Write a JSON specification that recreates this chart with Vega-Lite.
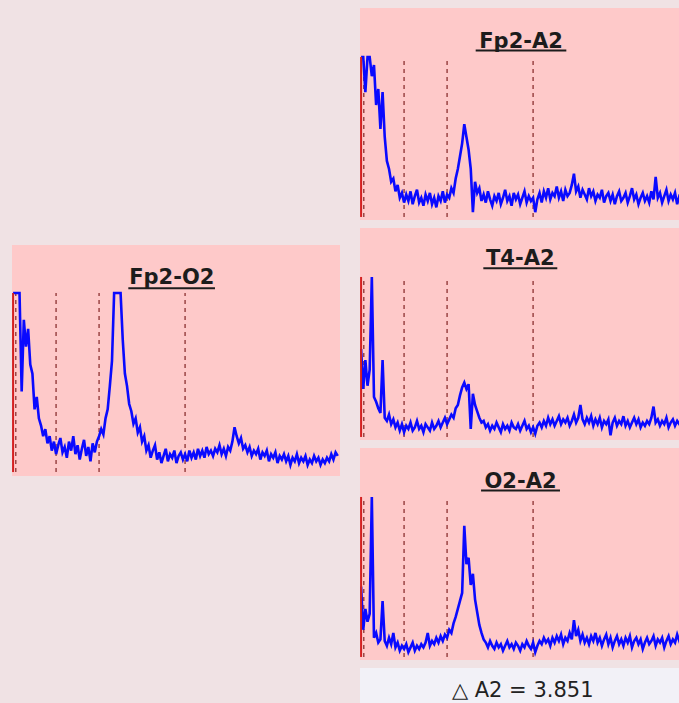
{
"$schema": "https://vega.github.io/schema/vega-lite/v6.json",
"background": "#f0e2e4",
"padding": {"left": 12, "top": 8, "right": 0, "bottom": 0},
"config": {"view": {"stroke": null}, "line": {"strokeWidth": 2.6, "color": "#0a0aff", "strokeJoin": "miter"}},
"datasets": {"spec": [
{"f":0,"a":1.0,"b":0.55,"c":0.44,"d":1.0},
{"f":0.2,"a":1.0,"b":0.3,"c":0.17,"d":1.0},
{"f":0.4,"a":0.78,"b":0.48,"c":0.3,"d":1.0},
{"f":0.6,"a":1.0,"b":0.32,"c":0.22,"d":1.0},
{"f":0.8,"a":1.0,"b":0.42,"c":0.27,"d":0.45},
{"f":1.0,"a":0.88,"b":1.0,"c":1.0,"d":0.85},
{"f":1.2,"a":0.95,"b":0.25,"c":0.12,"d":0.7},
{"f":1.4,"a":0.7,"b":0.22,"c":0.15,"d":0.8},
{"f":1.6,"a":0.8,"b":0.18,"c":0.09,"d":0.6},
{"f":1.8,"a":0.55,"b":0.15,"c":0.11,"d":0.55},
{"f":2.0,"a":0.78,"b":0.48,"c":0.35,"d":0.35},
{"f":2.2,"a":0.5,"b":0.12,"c":0.1,"d":0.42},
{"f":2.4,"a":0.35,"b":0.1,"c":0.07,"d":0.3},
{"f":2.6,"a":0.3,"b":0.14,"c":0.12,"d":0.26},
{"f":2.8,"a":0.22,"b":0.08,"c":0.08,"d":0.2},
{"f":3.0,"a":0.24,"b":0.11,"c":0.15,"d":0.24},
{"f":3.2,"a":0.16,"b":0.06,"c":0.06,"d":0.16},
{"f":3.4,"a":0.2,"b":0.09,"c":0.09,"d":0.2},
{"f":3.6,"a":0.12,"b":0.04,"c":0.04,"d":0.12},
{"f":3.8,"a":0.15,"b":0.08,"c":0.07,"d":0.17},
{"f":4.0,"a":0.09,"b":0.03,"c":0.05,"d":0.1},
{"f":4.2,"a":0.14,"b":0.07,"c":0.08,"d":0.15},
{"f":4.4,"a":0.1,"b":0.05,"c":0.03,"d":0.19},
{"f":4.6,"a":0.16,"b":0.09,"c":0.06,"d":0.11},
{"f":4.8,"a":0.08,"b":0.04,"c":0.09,"d":0.14},
{"f":5.0,"a":0.13,"b":0.06,"c":0.04,"d":0.08},
{"f":5.2,"a":0.17,"b":0.1,"c":0.07,"d":0.17},
{"f":5.4,"a":0.09,"b":0.05,"c":0.05,"d":0.12},
{"f":5.6,"a":0.12,"b":0.07,"c":0.08,"d":0.2},
{"f":5.8,"a":0.07,"b":0.03,"c":0.06,"d":0.1},
{"f":6.0,"a":0.14,"b":0.08,"c":0.09,"d":0.15},
{"f":6.2,"a":0.1,"b":0.06,"c":0.15,"d":0.07},
{"f":6.4,"a":0.15,"b":0.04,"c":0.07,"d":0.13},
{"f":6.6,"a":0.08,"b":0.09,"c":0.1,"d":0.18},
{"f":6.8,"a":0.12,"b":0.05,"c":0.08,"d":0.09},
{"f":7.0,"a":0.06,"b":0.07,"c":0.12,"d":0.14},
{"f":7.2,"a":0.13,"b":0.1,"c":0.09,"d":0.06},
{"f":7.4,"a":0.1,"b":0.06,"c":0.13,"d":0.16},
{"f":7.6,"a":0.16,"b":0.09,"c":0.1,"d":0.11},
{"f":7.8,"a":0.09,"b":0.12,"c":0.14,"d":0.17},
{"f":8.0,"a":0.14,"b":0.08,"c":0.12,"d":0.2},
{"f":8.2,"a":0.12,"b":0.11,"c":0.17,"d":0.24},
{"f":8.4,"a":0.18,"b":0.14,"c":0.15,"d":0.21},
{"f":8.6,"a":0.15,"b":0.12,"c":0.21,"d":0.3},
{"f":8.8,"a":0.24,"b":0.18,"c":0.25,"d":0.35},
{"f":9.0,"a":0.3,"b":0.2,"c":0.3,"d":0.48},
{"f":9.2,"a":0.38,"b":0.26,"c":0.35,"d":0.62},
{"f":9.4,"a":0.46,"b":0.31,"c":0.4,"d":1.0},
{"f":9.6,"a":0.58,"b":0.34,"c":0.82,"d":1.0},
{"f":9.8,"a":0.5,"b":0.3,"c":0.58,"d":1.0},
{"f":10.0,"a":0.42,"b":0.33,"c":0.62,"d":1.0},
{"f":10.2,"a":0.3,"b":0.05,"c":0.45,"d":0.74},
{"f":10.4,"a":0.03,"b":0.27,"c":0.52,"d":0.55},
{"f":10.6,"a":0.22,"b":0.2,"c":0.36,"d":0.48},
{"f":10.8,"a":0.15,"b":0.16,"c":0.28,"d":0.38},
{"f":11.0,"a":0.18,"b":0.12,"c":0.2,"d":0.34},
{"f":11.2,"a":0.1,"b":0.09,"c":0.15,"d":0.27},
{"f":11.4,"a":0.14,"b":0.1,"c":0.11,"d":0.3},
{"f":11.6,"a":0.09,"b":0.06,"c":0.09,"d":0.22},
{"f":11.8,"a":0.16,"b":0.08,"c":0.06,"d":0.25},
{"f":12.0,"a":0.11,"b":0.04,"c":0.1,"d":0.17},
{"f":12.2,"a":0.07,"b":0.07,"c":0.07,"d":0.2},
{"f":12.4,"a":0.13,"b":0.05,"c":0.05,"d":0.12},
{"f":12.6,"a":0.1,"b":0.09,"c":0.09,"d":0.15},
{"f":12.8,"a":0.15,"b":0.06,"c":0.06,"d":0.08},
{"f":13.0,"a":0.08,"b":0.03,"c":0.08,"d":0.12},
{"f":13.2,"a":0.12,"b":0.08,"c":0.04,"d":0.15},
{"f":13.4,"a":0.17,"b":0.05,"c":0.07,"d":0.07},
{"f":13.6,"a":0.1,"b":0.07,"c":0.1,"d":0.11},
{"f":13.8,"a":0.13,"b":0.04,"c":0.06,"d":0.05},
{"f":14.0,"a":0.07,"b":0.09,"c":0.08,"d":0.09},
{"f":14.2,"a":0.15,"b":0.06,"c":0.05,"d":0.13},
{"f":14.4,"a":0.11,"b":0.05,"c":0.09,"d":0.06},
{"f":14.6,"a":0.14,"b":0.08,"c":0.07,"d":0.1},
{"f":14.8,"a":0.08,"b":0.04,"c":0.04,"d":0.08},
{"f":15.0,"a":0.12,"b":0.07,"c":0.08,"d":0.12},
{"f":15.2,"a":0.16,"b":0.1,"c":0.06,"d":0.05},
{"f":15.4,"a":0.09,"b":0.05,"c":0.1,"d":0.09},
{"f":15.6,"a":0.13,"b":0.07,"c":0.07,"d":0.11},
{"f":15.8,"a":0.1,"b":0.03,"c":0.05,"d":0.07},
{"f":16.0,"a":0.12,"b":0.06,"c":0.09,"d":0.1},
{"f":16.2,"a":0.03,"b":0.02,"c":0.03,"d":0.06},
{"f":16.4,"a":0.11,"b":0.07,"c":0.07,"d":0.12},
{"f":16.6,"a":0.15,"b":0.09,"c":0.1,"d":0.08},
{"f":16.8,"a":0.09,"b":0.06,"c":0.08,"d":0.11},
{"f":17.0,"a":0.16,"b":0.1,"c":0.12,"d":0.07},
{"f":17.2,"a":0.12,"b":0.07,"c":0.09,"d":0.13},
{"f":17.4,"a":0.18,"b":0.12,"c":0.11,"d":0.09},
{"f":17.6,"a":0.11,"b":0.08,"c":0.07,"d":0.12},
{"f":17.8,"a":0.15,"b":0.11,"c":0.12,"d":0.08},
{"f":18.0,"a":0.13,"b":0.07,"c":0.09,"d":0.14},
{"f":18.2,"a":0.19,"b":0.1,"c":0.13,"d":0.1},
{"f":18.4,"a":0.12,"b":0.13,"c":0.1,"d":0.12},
{"f":18.6,"a":0.16,"b":0.08,"c":0.14,"d":0.09},
{"f":18.8,"a":0.1,"b":0.11,"c":0.08,"d":0.13},
{"f":19.0,"a":0.17,"b":0.09,"c":0.12,"d":0.11},
{"f":19.2,"a":0.13,"b":0.12,"c":0.1,"d":0.15},
{"f":19.4,"a":0.15,"b":0.07,"c":0.15,"d":0.1},
{"f":19.6,"a":0.2,"b":0.1,"c":0.11,"d":0.13},
{"f":19.8,"a":0.27,"b":0.14,"c":0.23,"d":0.09},
{"f":20.0,"a":0.16,"b":0.09,"c":0.13,"d":0.14},
{"f":20.2,"a":0.19,"b":0.12,"c":0.17,"d":0.12},
{"f":20.4,"a":0.12,"b":0.2,"c":0.1,"d":0.17},
{"f":20.6,"a":0.17,"b":0.11,"c":0.14,"d":0.25},
{"f":20.8,"a":0.14,"b":0.08,"c":0.09,"d":0.2},
{"f":21.0,"a":0.11,"b":0.12,"c":0.12,"d":0.16},
{"f":21.2,"a":0.18,"b":0.09,"c":0.08,"d":0.19},
{"f":21.4,"a":0.13,"b":0.13,"c":0.13,"d":0.13},
{"f":21.6,"a":0.16,"b":0.07,"c":0.1,"d":0.15},
{"f":21.8,"a":0.1,"b":0.11,"c":0.15,"d":0.11},
{"f":22.0,"a":0.14,"b":0.08,"c":0.09,"d":0.14},
{"f":22.2,"a":0.12,"b":0.12,"c":0.12,"d":0.09},
{"f":22.4,"a":0.17,"b":0.06,"c":0.07,"d":0.12},
{"f":22.6,"a":0.09,"b":0.1,"c":0.11,"d":0.1},
{"f":22.8,"a":0.13,"b":0.08,"c":0.14,"d":0.13},
{"f":23.0,"a":0.15,"b":0.11,"c":0.08,"d":0.07},
{"f":23.2,"a":0.1,"b":0.01,"c":0.12,"d":0.11},
{"f":23.4,"a":0.14,"b":0.09,"c":0.06,"d":0.09},
{"f":23.6,"a":0.08,"b":0.12,"c":0.1,"d":0.12},
{"f":23.8,"a":0.13,"b":0.07,"c":0.13,"d":0.06},
{"f":24.0,"a":0.16,"b":0.1,"c":0.08,"d":0.1},
{"f":24.2,"a":0.1,"b":0.08,"c":0.11,"d":0.08},
{"f":24.4,"a":0.12,"b":0.13,"c":0.07,"d":0.11},
{"f":24.6,"a":0.15,"b":0.07,"c":0.12,"d":0.05},
{"f":24.8,"a":0.09,"b":0.1,"c":0.09,"d":0.09},
{"f":25.0,"a":0.13,"b":0.06,"c":0.13,"d":0.07},
{"f":25.2,"a":0.18,"b":0.09,"c":0.06,"d":0.1},
{"f":25.4,"a":0.11,"b":0.12,"c":0.1,"d":0.06},
{"f":25.6,"a":0.14,"b":0.08,"c":0.12,"d":0.09},
{"f":25.8,"a":0.08,"b":0.11,"c":0.08,"d":0.04},
{"f":26.0,"a":0.12,"b":0.06,"c":0.11,"d":0.08},
{"f":26.2,"a":0.15,"b":0.09,"c":0.05,"d":0.06},
{"f":26.4,"a":0.1,"b":0.07,"c":0.09,"d":0.1},
{"f":26.6,"a":0.13,"b":0.1,"c":0.12,"d":0.05},
{"f":26.8,"a":0.09,"b":0.08,"c":0.08,"d":0.08},
{"f":27.0,"a":0.16,"b":0.12,"c":0.1,"d":0.06},
{"f":27.2,"a":0.11,"b":0.19,"c":0.13,"d":0.09},
{"f":27.4,"a":0.25,"b":0.09,"c":0.07,"d":0.04},
{"f":27.6,"a":0.12,"b":0.11,"c":0.11,"d":0.07},
{"f":27.8,"a":0.15,"b":0.07,"c":0.09,"d":0.05},
{"f":28.0,"a":0.09,"b":0.1,"c":0.12,"d":0.09},
{"f":28.2,"a":0.13,"b":0.08,"c":0.06,"d":0.06},
{"f":28.4,"a":0.17,"b":0.12,"c":0.1,"d":0.08},
{"f":28.6,"a":0.1,"b":0.06,"c":0.13,"d":0.04},
{"f":28.8,"a":0.14,"b":0.09,"c":0.08,"d":0.07},
{"f":29.0,"a":0.11,"b":0.11,"c":0.11,"d":0.05},
{"f":29.2,"a":0.15,"b":0.07,"c":0.09,"d":0.08},
{"f":29.4,"a":0.08,"b":0.1,"c":0.14,"d":0.06},
{"f":29.6,"a":0.13,"b":0.08,"c":0.1,"d":0.1},
{"f":29.8,"a":0.12,"b":0.12,"c":0.16,"d":0.07},
{"f":30.0,"a":0.16,"b":0.09,"c":0.12,"d":0.11},
{"f":30.2,"a":0.1,"b":0.11,"c":0.15,"d":0.09}
]},
"spacing": 20,
"hconcat": [
{"spacing": 8, "vconcat": [
 {"width": 328, "height": 229, "view": {"fill": null, "stroke": null}, "data": {"values": [{}]}, "mark": {"type": "point", "opacity": 0}, "encoding": {}},
 {"width": 328, "height": 231, "view": {"fill": "#fec9c9", "stroke": null},
  "layer": [
   {"data": {"values": [{"f": 0.25}, {"f": 4}, {"f": 8}, {"f": 16}]},
    "mark": {"type": "rule", "color": "#9a4545", "strokeDash": [4, 4], "strokeWidth": 1.5},
    "encoding": {"x": {"field": "f", "type": "quantitative", "scale": {"domain": [-0.1, 30.41], "nice": false, "zero": false}, "axis": null},
                 "y": {"datum": 0, "type": "quantitative", "scale": {"domain": [-0.022, 1.268], "nice": false, "zero": false}, "axis": null},
                 "y2": {"datum": 1}}},
   {"data": {"name": "spec"},
    "mark": {"type": "line", "clip": true},
    "encoding": {"x": {"field": "f", "type": "quantitative", "scale": {"domain": [-0.1, 30.41], "nice": false, "zero": false}, "axis": null},
                 "y": {"field": "d", "type": "quantitative", "scale": {"domain": [-0.022, 1.268], "nice": false, "zero": false}, "axis": null}}},
   {"data": {"values": [{}]},
    "mark": {"type": "rule", "color": "#d42020", "strokeWidth": 2},
    "encoding": {"x": {"datum": 0, "type": "quantitative", "scale": {"domain": [-0.1, 30.41], "nice": false, "zero": false}, "axis": null},
                 "y": {"datum": 0, "type": "quantitative", "scale": {"domain": [-0.022, 1.268], "nice": false, "zero": false}, "axis": null},
                 "y2": {"datum": 1}}},
   {"data": {"values": [{}]},
    "mark": {"type": "text", "font": "DejaVu Sans", "fontSize": 21, "fontWeight": "bold", "color": "#1c1c1c", "align": "center", "baseline": "alphabetic"},
    "encoding": {"x": {"datum": 14.76, "type": "quantitative", "scale": {"domain": [-0.1, 30.41], "nice": false, "zero": false}, "axis": null},
                 "y": {"datum": 1.05, "type": "quantitative", "scale": {"domain": [-0.022, 1.268], "nice": false, "zero": false}, "axis": null},
                 "text": {"value": "Fp2-O2"}}},
   {"data": {"values": [{}]},
    "mark": {"type": "rule", "color": "#1c1c1c", "strokeWidth": 2},
    "encoding": {"x": {"datum": 10.72, "type": "quantitative", "scale": {"domain": [-0.1, 30.41], "nice": false, "zero": false}, "axis": null},
                 "x2": {"datum": 18.78},
                 "y": {"datum": 1.026, "type": "quantitative", "scale": {"domain": [-0.022, 1.268], "nice": false, "zero": false}, "axis": null}}}
  ]}
]},
{"spacing": 8, "vconcat": [
 {"width": 319, "height": 212, "view": {"fill": "#fec9c9", "stroke": null},
  "layer": [
   {"data": {"values": [{"f": 0.25}, {"f": 4}, {"f": 8}, {"f": 16}]},
    "mark": {"type": "rule", "color": "#9a4545", "strokeDash": [4, 4], "strokeWidth": 1.5},
    "encoding": {"x": {"field": "f", "type": "quantitative", "scale": {"domain": [-0.1, 29.57], "nice": false, "zero": false}, "axis": null},
                 "y": {"datum": 0, "type": "quantitative", "scale": {"domain": [-0.019, 1.306], "nice": false, "zero": false}, "axis": null},
                 "y2": {"datum": 1}}},
   {"data": {"name": "spec"},
    "mark": {"type": "line", "clip": true},
    "encoding": {"x": {"field": "f", "type": "quantitative", "scale": {"domain": [-0.1, 29.57], "nice": false, "zero": false}, "axis": null},
                 "y": {"field": "a", "type": "quantitative", "scale": {"domain": [-0.019, 1.306], "nice": false, "zero": false}, "axis": null}}},
   {"data": {"values": [{}]},
    "mark": {"type": "rule", "color": "#d42020", "strokeWidth": 2},
    "encoding": {"x": {"datum": 0, "type": "quantitative", "scale": {"domain": [-0.1, 29.57], "nice": false, "zero": false}, "axis": null},
                 "y": {"datum": 0, "type": "quantitative", "scale": {"domain": [-0.019, 1.306], "nice": false, "zero": false}, "axis": null},
                 "y2": {"datum": 1}}},
   {"data": {"values": [{}]},
    "mark": {"type": "text", "font": "DejaVu Sans", "fontSize": 21, "fontWeight": "bold", "color": "#1c1c1c", "align": "center", "baseline": "alphabetic"},
    "encoding": {"x": {"datum": 14.88, "type": "quantitative", "scale": {"domain": [-0.1, 29.57], "nice": false, "zero": false}, "axis": null},
                 "y": {"datum": 1.056, "type": "quantitative", "scale": {"domain": [-0.019, 1.306], "nice": false, "zero": false}, "axis": null},
                 "text": {"value": "Fp2-A2"}}},
   {"data": {"values": [{}]},
    "mark": {"type": "rule", "color": "#1c1c1c", "strokeWidth": 2},
    "encoding": {"x": {"datum": 10.66, "type": "quantitative", "scale": {"domain": [-0.1, 29.57], "nice": false, "zero": false}, "axis": null},
                 "x2": {"datum": 19.09},
                 "y": {"datum": 1.04, "type": "quantitative", "scale": {"domain": [-0.019, 1.306], "nice": false, "zero": false}, "axis": null}}}
  ]},
 {"width": 319, "height": 212, "view": {"fill": "#fec9c9", "stroke": null},
  "layer": [
   {"data": {"values": [{"f": 0.25}, {"f": 4}, {"f": 8}, {"f": 16}]},
    "mark": {"type": "rule", "color": "#9a4545", "strokeDash": [4, 4], "strokeWidth": 1.5},
    "encoding": {"x": {"field": "f", "type": "quantitative", "scale": {"domain": [-0.1, 29.57], "nice": false, "zero": false}, "axis": null},
                 "y": {"datum": 0, "type": "quantitative", "scale": {"domain": [-0.019, 1.306], "nice": false, "zero": false}, "axis": null},
                 "y2": {"datum": 1}}},
   {"data": {"name": "spec"},
    "mark": {"type": "line", "clip": true},
    "encoding": {"x": {"field": "f", "type": "quantitative", "scale": {"domain": [-0.1, 29.57], "nice": false, "zero": false}, "axis": null},
                 "y": {"field": "b", "type": "quantitative", "scale": {"domain": [-0.019, 1.306], "nice": false, "zero": false}, "axis": null}}},
   {"data": {"values": [{}]},
    "mark": {"type": "rule", "color": "#d42020", "strokeWidth": 2},
    "encoding": {"x": {"datum": 0, "type": "quantitative", "scale": {"domain": [-0.1, 29.57], "nice": false, "zero": false}, "axis": null},
                 "y": {"datum": 0, "type": "quantitative", "scale": {"domain": [-0.019, 1.306], "nice": false, "zero": false}, "axis": null},
                 "y2": {"datum": 1}}},
   {"data": {"values": [{}]},
    "mark": {"type": "text", "font": "DejaVu Sans", "fontSize": 21, "fontWeight": "bold", "color": "#1c1c1c", "align": "center", "baseline": "alphabetic"},
    "encoding": {"x": {"datum": 14.81, "type": "quantitative", "scale": {"domain": [-0.1, 29.57], "nice": false, "zero": false}, "axis": null},
                 "y": {"datum": 1.075, "type": "quantitative", "scale": {"domain": [-0.019, 1.306], "nice": false, "zero": false}, "axis": null},
                 "text": {"value": "T4-A2"}}},
   {"data": {"values": [{}]},
    "mark": {"type": "rule", "color": "#1c1c1c", "strokeWidth": 2},
    "encoding": {"x": {"datum": 11.37, "type": "quantitative", "scale": {"domain": [-0.1, 29.57], "nice": false, "zero": false}, "axis": null},
                 "x2": {"datum": 18.25},
                 "y": {"datum": 1.054, "type": "quantitative", "scale": {"domain": [-0.019, 1.306], "nice": false, "zero": false}, "axis": null}}}
  ]},
 {"width": 319, "height": 212, "view": {"fill": "#fec9c9", "stroke": null},
  "layer": [
   {"data": {"values": [{"f": 0.25}, {"f": 4}, {"f": 8}, {"f": 16}]},
    "mark": {"type": "rule", "color": "#9a4545", "strokeDash": [4, 4], "strokeWidth": 1.5},
    "encoding": {"x": {"field": "f", "type": "quantitative", "scale": {"domain": [-0.1, 29.57], "nice": false, "zero": false}, "axis": null},
                 "y": {"datum": 0, "type": "quantitative", "scale": {"domain": [-0.019, 1.306], "nice": false, "zero": false}, "axis": null},
                 "y2": {"datum": 1}}},
   {"data": {"name": "spec"},
    "mark": {"type": "line", "clip": true},
    "encoding": {"x": {"field": "f", "type": "quantitative", "scale": {"domain": [-0.1, 29.57], "nice": false, "zero": false}, "axis": null},
                 "y": {"field": "c", "type": "quantitative", "scale": {"domain": [-0.019, 1.306], "nice": false, "zero": false}, "axis": null}}},
   {"data": {"values": [{}]},
    "mark": {"type": "rule", "color": "#d42020", "strokeWidth": 2},
    "encoding": {"x": {"datum": 0, "type": "quantitative", "scale": {"domain": [-0.1, 29.57], "nice": false, "zero": false}, "axis": null},
                 "y": {"datum": 0, "type": "quantitative", "scale": {"domain": [-0.019, 1.306], "nice": false, "zero": false}, "axis": null},
                 "y2": {"datum": 1}}},
   {"data": {"values": [{}]},
    "mark": {"type": "text", "font": "DejaVu Sans", "fontSize": 21, "fontWeight": "bold", "color": "#1c1c1c", "align": "center", "baseline": "alphabetic"},
    "encoding": {"x": {"datum": 14.83, "type": "quantitative", "scale": {"domain": [-0.1, 29.57], "nice": false, "zero": false}, "axis": null},
                 "y": {"datum": 1.056, "type": "quantitative", "scale": {"domain": [-0.019, 1.306], "nice": false, "zero": false}, "axis": null},
                 "text": {"value": "O2-A2"}}},
   {"data": {"values": [{}]},
    "mark": {"type": "rule", "color": "#1c1c1c", "strokeWidth": 2},
    "encoding": {"x": {"datum": 11.16, "type": "quantitative", "scale": {"domain": [-0.1, 29.57], "nice": false, "zero": false}, "axis": null},
                 "x2": {"datum": 18.5},
                 "y": {"datum": 1.04, "type": "quantitative", "scale": {"domain": [-0.019, 1.306], "nice": false, "zero": false}, "axis": null}}}
  ]},
 {"width": 319, "height": 35, "view": {"fill": "#f2f1f7", "stroke": null},
  "data": {"values": [{}]},
  "mark": {"type": "text", "font": "DejaVu Sans", "fontSize": 21, "color": "#222222", "align": "center", "baseline": "alphabetic"},
  "encoding": {"x": {"datum": 0.51, "type": "quantitative", "scale": {"domain": [0, 1], "nice": false, "zero": false}, "axis": null},
               "y": {"datum": 0.17, "type": "quantitative", "scale": {"domain": [0, 1], "nice": false, "zero": false}, "axis": null},
               "text": {"value": "△ A2 = 3.851"}}}
]}
]
}
